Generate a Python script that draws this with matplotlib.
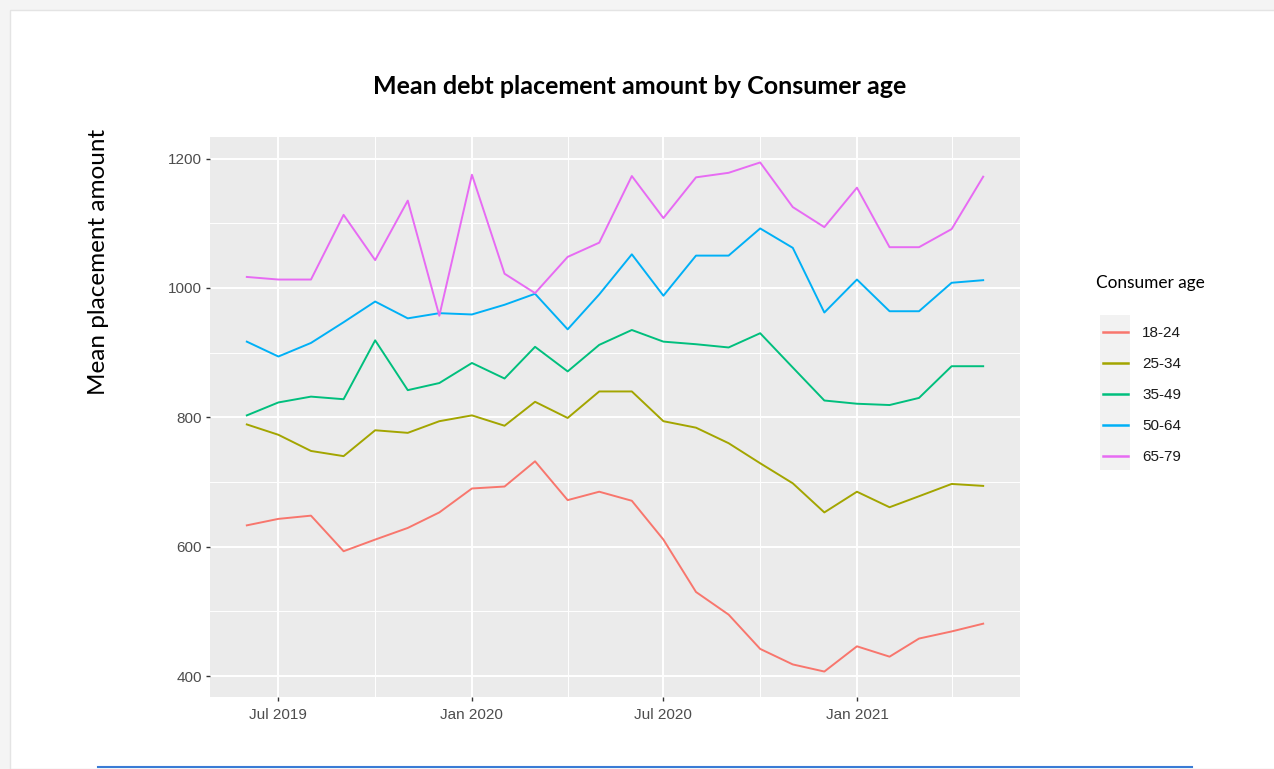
import matplotlib
matplotlib.use("Agg")
import matplotlib.pyplot as plt
import matplotlib.dates as mdates
from matplotlib.patches import Rectangle
from matplotlib.lines import Line2D
import pandas as pd

# Monthly observations, Jun 2019 - May 2021
months = pd.date_range("2019-06-01", periods=24, freq="MS")

age_groups = ["18-24", "25-34", "35-49", "50-64", "65-79"]

age_18_24 = [633, 643, 648, 593, 611, 629, 653, 690, 693, 732, 672, 685,
             671, 611, 530, 495, 442, 418, 407, 446, 430, 458, 469, 481]
age_25_34 = [789, 773, 748, 740, 780, 776, 794, 803, 787, 824, 799, 840,
             840, 794, 784, 760, 729, 698, 653, 685, 661, 678, 697, 694]
age_35_49 = [803, 823, 832, 828, 919, 842, 853, 884, 860, 909, 871, 912,
             935, 917, 913, 908, 930, 877, 826, 821, 819, 830, 879, 879]
age_50_64 = [917, 894, 915, 947, 979, 953, 961, 959, 974, 991, 936, 990,
             1052, 988, 1050, 1050, 1092, 1062, 962, 1013, 964, 964, 1008, 1012]
age_65_79 = [1017, 1013, 1013, 1113, 1043, 1135, 957, 1175, 1022, 992, 1048, 1070,
             1173, 1108, 1171, 1178, 1194, 1125, 1094, 1155, 1063, 1063, 1091, 1172]

series = [age_18_24, age_25_34, age_35_49, age_50_64, age_65_79]
colors = ["#F8766D", "#A3A500", "#00BF7D", "#00B0F6", "#E76BF3"]

W, H = 1274, 769
fig = plt.figure(figsize=(W / 100, H / 100), dpi=100)
fig.patch.set_facecolor("#f4f4f4")

# white card behind the chart
fig.patches.append(Rectangle((10 / W, 0), 1, 1 - 10 / H, transform=fig.transFigure,
                             facecolor="white", edgecolor="#e4e4e4", linewidth=1, zorder=-2))
# blue rule at the bottom of the card
fig.lines.append(Line2D([98 / W, 1192 / W], [1 - 767 / H] * 2, transform=fig.transFigure,
                        color="#3a7bd5", linewidth=1.5))
# legend key background
fig.patches.append(Rectangle((1100 / W, 1 - 470 / H), 30 / W, 155 / H,
                             transform=fig.transFigure, facecolor="#F2F2F2",
                             edgecolor="none", zorder=-1))

ax = fig.add_axes([210 / W, 1 - 697 / H, (1020 - 210) / W, (697 - 137) / H])
ax.set_facecolor("#EBEBEB")

for vals, col, lab in zip(series, colors, age_groups):
    ax.plot(months, vals, color=col, linewidth=1.4, label=lab)

ax.margins(x=0.05, y=0.05)
ax.set_yticks([400, 600, 800, 1000, 1200])
ax.set_yticks([500, 700, 900, 1100], minor=True)
ax.xaxis.set_major_locator(mdates.MonthLocator(bymonth=[1, 7]))
ax.xaxis.set_minor_locator(mdates.MonthLocator(bymonth=[4, 10]))
ax.xaxis.set_major_formatter(mdates.DateFormatter("%b %Y"))

ax.grid(which="major", color="white", linewidth=1.4)
ax.grid(which="minor", color="white", linewidth=0.7)
ax.set_axisbelow(True)
for s in ax.spines.values():
    s.set_visible(False)

ax.tick_params(which="major", length=3, width=1, color="#333333",
               labelcolor="#4D4D4D", labelsize=11, pad=3)
ax.tick_params(axis="x", which="major", pad=5)
ax.tick_params(which="minor", length=0)
for lbl in ax.get_xticklabels() + ax.get_yticklabels():
    lbl.set_family("Liberation Sans")

fig.text(640 / W, 1 - 87 / H, "Mean debt placement amount by Consumer age",
         ha="center", va="center", family="Lato", fontweight="bold", fontsize=18)
fig.text(99 / W, 1 - 262 / H, "Mean placement amount", rotation=90,
         ha="center", va="center", family="Lato", fontsize=17.5)

# legend
fig.text(1096 / W, 1 - 283 / H, "Consumer age", ha="left", va="center",
         family="Lato", fontsize=12.4)
leg = ax.legend(loc="upper left", bbox_to_anchor=(1103 / W, 1 - 326 / H),
                bbox_transform=fig.transFigure, frameon=False, borderpad=0,
                borderaxespad=0, handlelength=1.65, handletextpad=0.9,
                labelspacing=1.12, prop={"family": "Liberation Sans", "size": 11})
for line in leg.get_lines():
    line.set_linewidth(1.8)
for t in leg.get_texts():
    t.set_color("#1a1a1a")

fig.savefig("out.png", dpi=100)
